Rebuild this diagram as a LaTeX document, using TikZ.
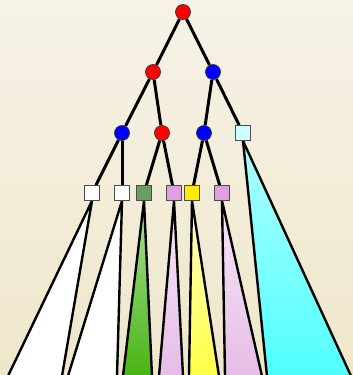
\documentclass[tikz,border=0pt]{standalone}
\usetikzlibrary{backgrounds}
\definecolor{bgtop}{RGB}{246,242,231}
\definecolor{bgbot}{RGB}{239,231,203}
\definecolor{leafgreen}{RGB}{106,158,94}
\definecolor{leafpink}{RGB}{224,160,224}
\definecolor{leafyellow}{RGB}{255,236,0}
\definecolor{leafcyan}{RGB}{204,255,255}
\begin{document}
\begin{tikzpicture}[x=1pt,y=-1pt,
  dot/.style={circle, draw=black!80, line width=0.7pt, minimum size=15pt, inner sep=0pt},
  sq/.style={rectangle, draw=black!70, line width=0.7pt, minimum size=15pt, inner sep=0pt},
  edge/.style={line width=3pt},
  cone/.style={line width=2.4pt, line join=round}
]
  \useasboundingbox (0,0) rectangle (353,375);

  % Root and inner nodes
  \node[dot, fill=red] (root) at (183,12) {};
  \node[dot, fill=red] (l) at (153,72) {};
  \node[dot, fill=blue] (r) at (213,72) {};
  \node[dot, fill=blue] (ll) at (122,133) {};
  \node[dot, fill=red] (lr) at (162,133) {};
  \node[dot, fill=blue] (rl) at (204,133) {};
  \node[sq, fill=leafcyan] (rr) at (243,133) {};

  % Leaves
  \node[sq, fill=white] (w1) at (92,193) {};
  \node[sq, fill=white] (w2) at (122,193) {};
  \node[sq, fill=leafgreen] (gr) at (144,193) {};
  \node[sq, fill=leafpink] (p1) at (174,193) {};
  \node[sq, fill=leafyellow] (ye) at (192,193) {};
  \node[sq, fill=leafpink] (p2) at (222,193) {};

  % Feet of the subtrees
  \coordinate (w1a) at (8,376);   \coordinate (w1b) at (62,376);
  \coordinate (w2a) at (68,376);  \coordinate (w2b) at (117,376);
  \coordinate (gra) at (123,376); \coordinate (grb) at (152,376);
  \coordinate (p1a) at (159,376); \coordinate (p1b) at (183,376);
  \coordinate (yea) at (189,376); \coordinate (yeb) at (219,376);
  \coordinate (p2a) at (225,376); \coordinate (p2b) at (262,376);
  \coordinate (rra) at (267,376); \coordinate (rrb) at (351,376);

  \begin{scope}[on background layer]
    \shade[top color=bgtop, bottom color=bgbot] (0,0) rectangle (353,375);

    % Subtrees
    \fill[white] (w1.south) -- (w1a) -- (w1b) -- cycle;
    \fill[white] (w2.south) -- (w2a) -- (w2b) -- cycle;
    \shade[top color={rgb,255:red,170;green,225;blue,150}, bottom color={rgb,255:red,72;green,180;blue,20}]
      (gr.south) -- (gra) -- (grb) -- cycle;
    \shade[top color={rgb,255:red,246;green,232;blue,246}, bottom color={rgb,255:red,230;green,188;blue,230}]
      (p1.south) -- (p1a) -- (p1b) -- cycle;
    \shade[top color={rgb,255:red,255;green,255;blue,200}, bottom color={rgb,255:red,255;green,255;blue,70}]
      (ye.south) -- (yea) -- (yeb) -- cycle;
    \shade[top color={rgb,255:red,246;green,232;blue,246}, bottom color={rgb,255:red,230;green,188;blue,230}]
      (p2.south) -- (p2a) -- (p2b) -- cycle;
    \shade[top color={rgb,255:red,175;green,255;blue,255}, bottom color={rgb,255:red,80;green,255;blue,255}]
      (rr.south) -- (rra) -- (rrb) -- cycle;
    \foreach \t in {w1,w2,gr,p1,ye,p2,rr}
      \draw[cone] (\t a) -- (\t.south) -- (\t b);

    % Tree edges
    \draw[edge] (root) -- (l);
    \draw[edge] (root) -- (r);
    \draw[edge] (l) -- (ll);
    \draw[edge] (l) -- (lr);
    \draw[edge] (r) -- (rl);
    \draw[edge] (r) -- (rr);
    \draw[edge] (ll) -- (w1);
    \draw[edge] (ll) -- (w2);
    \draw[edge] (lr) -- (gr);
    \draw[edge] (lr) -- (p1);
    \draw[edge] (rl) -- (ye);
    \draw[edge] (rl) -- (p2);
  \end{scope}
\end{tikzpicture}
\end{document}
